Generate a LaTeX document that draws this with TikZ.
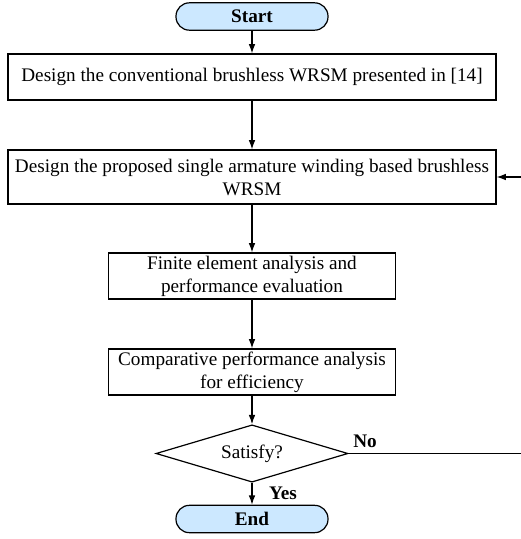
\documentclass[tikz,border=0pt]{standalone}
\usepackage{fontspec}
\setmainfont{Liberation Serif}
\usepackage{tikz}
\usetikzlibrary{arrows.meta,shapes.geometric}
\definecolor{termblue}{HTML}{CCE8FF}
\newcommand{\flowfont}{\fontsize{14.4}{17.25}\selectfont}
\tikzset{
	terminal/.style={draw, fill=termblue, rounded corners=10pt, minimum width=114pt, minimum height=20.5pt, inner sep=0pt, font=\flowfont\bfseries},
	procbox/.style={draw, align=center, inner sep=0pt, font=\flowfont},
	decision/.style={draw, diamond, aspect=3.37, minimum width=144pt, minimum height=43pt, inner sep=0pt, font=\flowfont},
	flowlabel/.style={font=\flowfont\bfseries, inner sep=0pt}
}

\begin{document}
\begin{tikzpicture}[>={Latex[length=7pt,width=5pt]}, x=0.75pt, y=-0.75pt, line width=0.9pt]
	\path[use as bounding box, clip] (0,0) rectangle (521,539);
	%Inizio
	\node [terminal] (start) at (252,16.5) {Start};
	%Blocchi
	\node [procbox, minimum width=366pt, minimum height=34.5pt] (conv) at (252,77) {Design the conventional brushless WRSM presented in [14]};
	\node [procbox, minimum width=366pt, minimum height=40.5pt] (prop) at (252,177) {Design the proposed single armature winding based brushless\\ WRSM};
	\node [procbox, minimum width=215pt, minimum height=34.5pt] (fea) at (252,276) {Finite element analysis and\\ performance evaluation};
	\node [procbox, minimum width=215pt, minimum height=34.5pt] (comp) at (252,372) {Comparative performance analysis\\ for efficiency};
	%Test
	\node [decision] (sat) at (252,453.5) {Satisfy?};
	\node [flowlabel] (no) at (365,441) {No};
	\node [flowlabel] (yes) at (283,493) {Yes};
	%Fine
	\node [terminal] (end) at (252,519) {End};
	%Collegamenti
	\draw [->] (start) -- (conv);
	\draw [->] (conv) -- (prop);
	\draw [->] (prop) -- (fea);
	\draw [->] (fea) -- (comp);
	\draw [->] (comp) -- (sat);
	\draw [->] (sat) -- (end);
	%Ritorno
	\coordinate (loop) at (524,453.5);
	\draw [->] (sat.east) -- (loop) |- (prop.east);
\end{tikzpicture}
\end{document}
